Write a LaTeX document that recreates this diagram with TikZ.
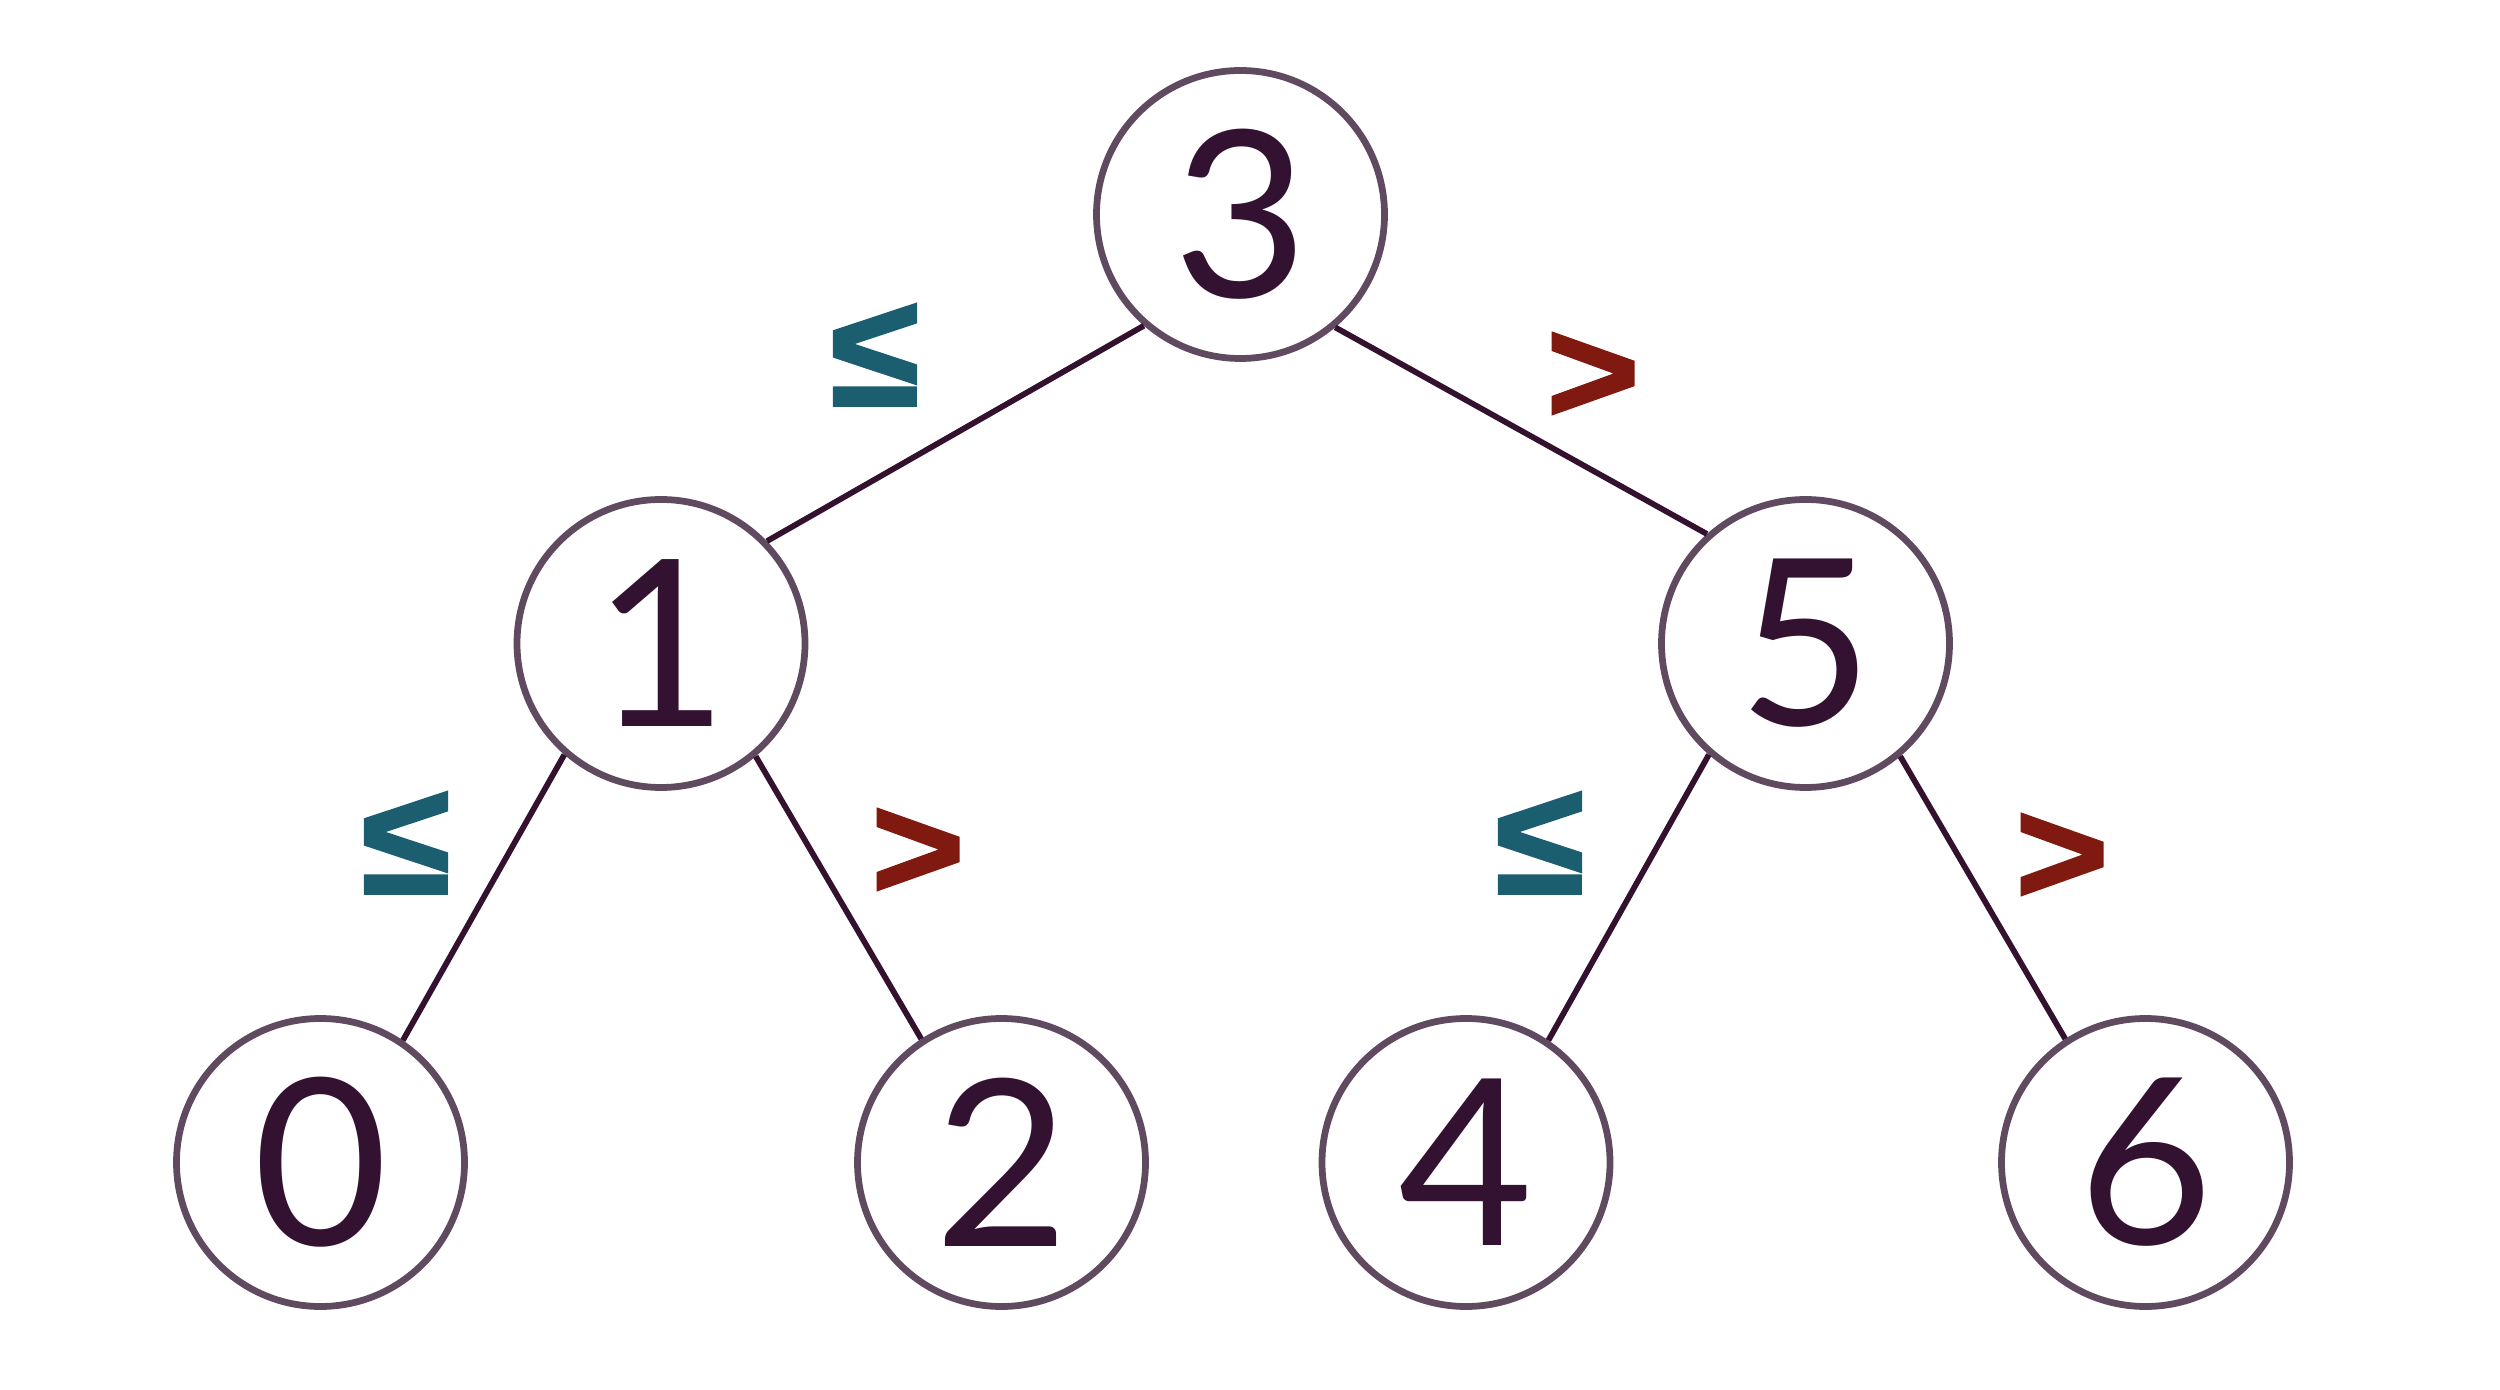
\documentclass[tikz,border=0pt]{standalone}
\usepackage{fontspec}
\setmainfont{Lato}
\newfontfamily\symfont{Liberation Sans Bold}[FakeBold=2]
\definecolor{txt}{HTML}{331231}
\definecolor{ring}{HTML}{604A60}
\definecolor{edgec}{HTML}{33112F}
\definecolor{teal}{HTML}{1A5E70}
\definecolor{rust}{HTML}{801A10}
\tikzset{
  treenode/.style={circle, draw=ring, line width=2.7pt, minimum size=115.2pt, inner sep=0pt, fill=white, text=txt, font=\fontsize{93}{93}\selectfont},
  treeedge/.style={draw=edgec, line width=2.3pt},
  lelabel/.style={text=teal, font=\symfont\fontsize{53}{53}\selectfont, inner sep=0pt},
  gtlabel/.style={text=rust, font=\symfont\fontsize{53}{53}\selectfont, inner sep=0pt}
}
\begin{document}
\begin{tikzpicture}[x=0.4pt, y=-0.4pt]
\useasboundingbox (0,0) rectangle (2500,1390);
\node[treenode] (n3) at (1240.5,214.5) {3};
\node[treenode] (n1) at (661,643.5) {1};
\node[treenode] (n5) at (1805.5,643.5) {5};
\node[treenode] (n0) at (320.5,1162.5) {0};
\node[treenode] (n2) at (1001.5,1162.5) {2};
\node[treenode] (n4) at (1466,1162.5) {4};
\node[treenode] (n6) at (2145.5,1162.5) {6};
\draw[treeedge] (n3.229.3) -- (n1.44.6);
\draw[treeedge] (n3.310.7) -- (n5.132);
\draw[treeedge] (n1.229.3) -- (n0.56.5);
\draw[treeedge] (n1.310.7) -- (n2.123.5);
\draw[treeedge] (n5.229.3) -- (n4.56.5);
\draw[treeedge] (n5.310.7) -- (n6.123.5);
\node[lelabel] (l31) at (875,355) {\scalebox{1.22}[1.2]{≤}};
\node[gtlabel] (l35) at (1593,378) {\scalebox{1.2}[1.12]{>}};
\node[lelabel] (l10) at (406,843) {\scalebox{1.22}[1.2]{≤}};
\node[gtlabel] (l12) at (918,854) {\scalebox{1.2}[1.12]{>}};
\node[lelabel] (l54) at (1540,843) {\scalebox{1.22}[1.2]{≤}};
\node[gtlabel] (l56) at (2062,859) {\scalebox{1.2}[1.12]{>}};
\end{tikzpicture}
\end{document}
